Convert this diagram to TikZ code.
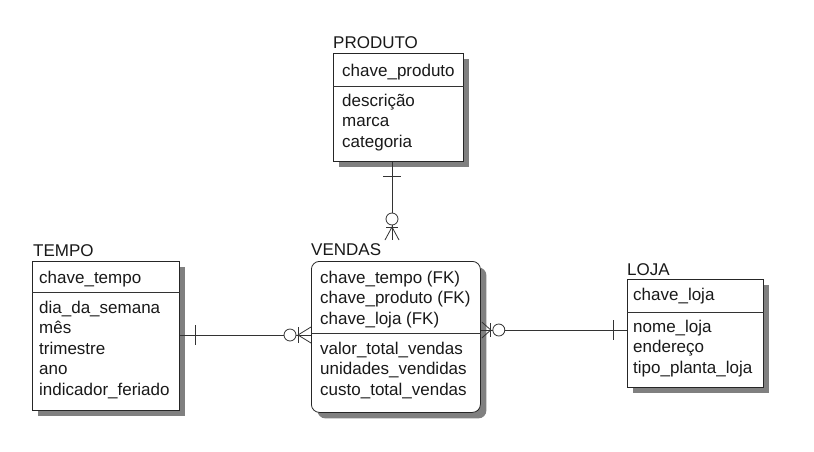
\documentclass[tikz,border=0pt]{standalone}
\usepackage{fontspec}
\setmainfont{Liberation Sans}
\usetikzlibrary{shadows,calc}
\tikzset{
  ent/.style={draw=black!85, line width=0.8pt, fill=white, anchor=north west, inner sep=0pt,
    drop shadow={shadow xshift=6pt, shadow yshift=-6pt, fill=black!50, opacity=1}},
  lbl/.style={anchor=base west, inner sep=0pt, font=\fontsize{17}{20}\selectfont, text=black!90},
  conn/.style={draw=black!80, line width=0.8pt},
}
\begin{document}
\begin{tikzpicture}[x=1pt,y=-1pt]
\useasboundingbox[fill=white] (0,0) rectangle (814,451);

% entity boxes
\node[ent, minimum width=130pt, minimum height=108pt] (produto) at (333,53) {};
\node[ent, minimum width=147pt, minimum height=149pt] (tempo) at (32,261) {};
\node[ent, rounded corners=8pt, minimum width=169pt, minimum height=151pt] (vendas) at (311,261) {};
\node[ent, minimum width=136pt, minimum height=108pt] (loja) at (627,279) {};

% dividers
\draw[conn] ($(produto.north west)+(0,33)$) -- ($(produto.north east)+(0,33)$);
\draw[conn] ($(tempo.north west)+(0,31)$) -- ($(tempo.north east)+(0,31)$);
\draw[conn] ($(vendas.north west)+(0,72)$) -- ($(vendas.north east)+(0,72)$);
\draw[conn] ($(loja.north west)+(0,33)$) -- ($(loja.north east)+(0,33)$);

% PRODUTO
\node[lbl] (pt) at (333,48) {PRODUTO};
\node[lbl] (pk) at (342,76) {chave\_produto};
\node[lbl] (pa1) at (342,106) {descrição};
\node[lbl] (pa2) at (342,126.5) {marca};
\node[lbl] (pa3) at (342,147) {categoria};

% TEMPO
\node[lbl] (tt) at (33,256) {TEMPO};
\node[lbl] (tk) at (39,283) {chave\_tempo};
\node[lbl] (ta1) at (39,313) {dia\_da\_semana};
\node[lbl] (ta2) at (39,333.5) {mês};
\node[lbl] (ta3) at (39,354) {trimestre};
\node[lbl] (ta4) at (39,374.5) {ano};
\node[lbl] (ta5) at (39,395) {indicador\_feriado};

% VENDAS
\node[lbl] (vt) at (311,255) {VENDAS};
\node[lbl] (vk1) at (320,283) {chave\_tempo (FK)};
\node[lbl] (vk2) at (320,303.5) {chave\_produto (FK)};
\node[lbl] (vk3) at (320,324) {chave\_loja (FK)};
\node[lbl] (va1) at (320,354) {valor\_total\_vendas};
\node[lbl] (va2) at (320,374.5) {unidades\_vendidas};
\node[lbl] (va3) at (320,395) {custo\_total\_vendas};

% LOJA
\node[lbl] (lt) at (627,275) {LOJA};
\node[lbl] (lk) at (633,300) {chave\_loja};
\node[lbl] (la1) at (633,332) {nome\_loja};
\node[lbl] (la2) at (633,352.5) {endereço};
\node[lbl] (la3) at (633,373) {tipo\_planta\_loja};

% connector PRODUTO - VENDAS
\coordinate (c1) at (392,240);
\coordinate (p1) at (c1 |- produto.south);
\draw[conn] (p1) -- (c1);
\draw[conn] ($(p1)+(-9,15)$) -- ++(18,0);
\draw[conn] ($(c1)+(-6,-13)$) -- ++(12,0);
\draw[conn] ($(c1)+(-7,0)$) -- ($(c1)+(0,-13)$) -- ($(c1)+(7,0)$);
\draw[conn, fill=white] ($(c1)+(0,-21)$) circle[radius=6pt];

% connector TEMPO - VENDAS
\coordinate (c2) at (0,335);
\coordinate (l2) at (tempo.east |- c2);
\coordinate (r2) at (vendas.west |- c2);
\draw[conn] (l2) -- (r2);
\draw[conn] ($(l2)+(16,-10)$) -- ++(0,20);
\draw[conn] ($(r2)+(-13,-8)$) -- ++(0,16);
\draw[conn] ($(r2)+(0,-8)$) -- ($(r2)+(-13,0)$) -- ($(r2)+(0,8)$);
\draw[conn, fill=white] ($(r2)+(-21,0)$) circle[radius=6pt];

% connector VENDAS - LOJA
\coordinate (c3) at (0,330);
\coordinate (l3) at (vendas.east |- c3);
\coordinate (r3) at (loja.west |- c3);
\draw[conn] (l3) -- (r3);
\draw[conn] ($(l3)+(1,-8)$) -- ($(l3)+(10,0)$) -- ($(l3)+(1,8)$);
\draw[conn] ($(l3)+(10,-7)$) -- ++(0,14);
\draw[conn, fill=white] ($(l3)+(18,0)$) circle[radius=6pt];
\draw[conn] ($(r3)+(-14,-10)$) -- ++(0,20);
\end{tikzpicture}
\end{document}
